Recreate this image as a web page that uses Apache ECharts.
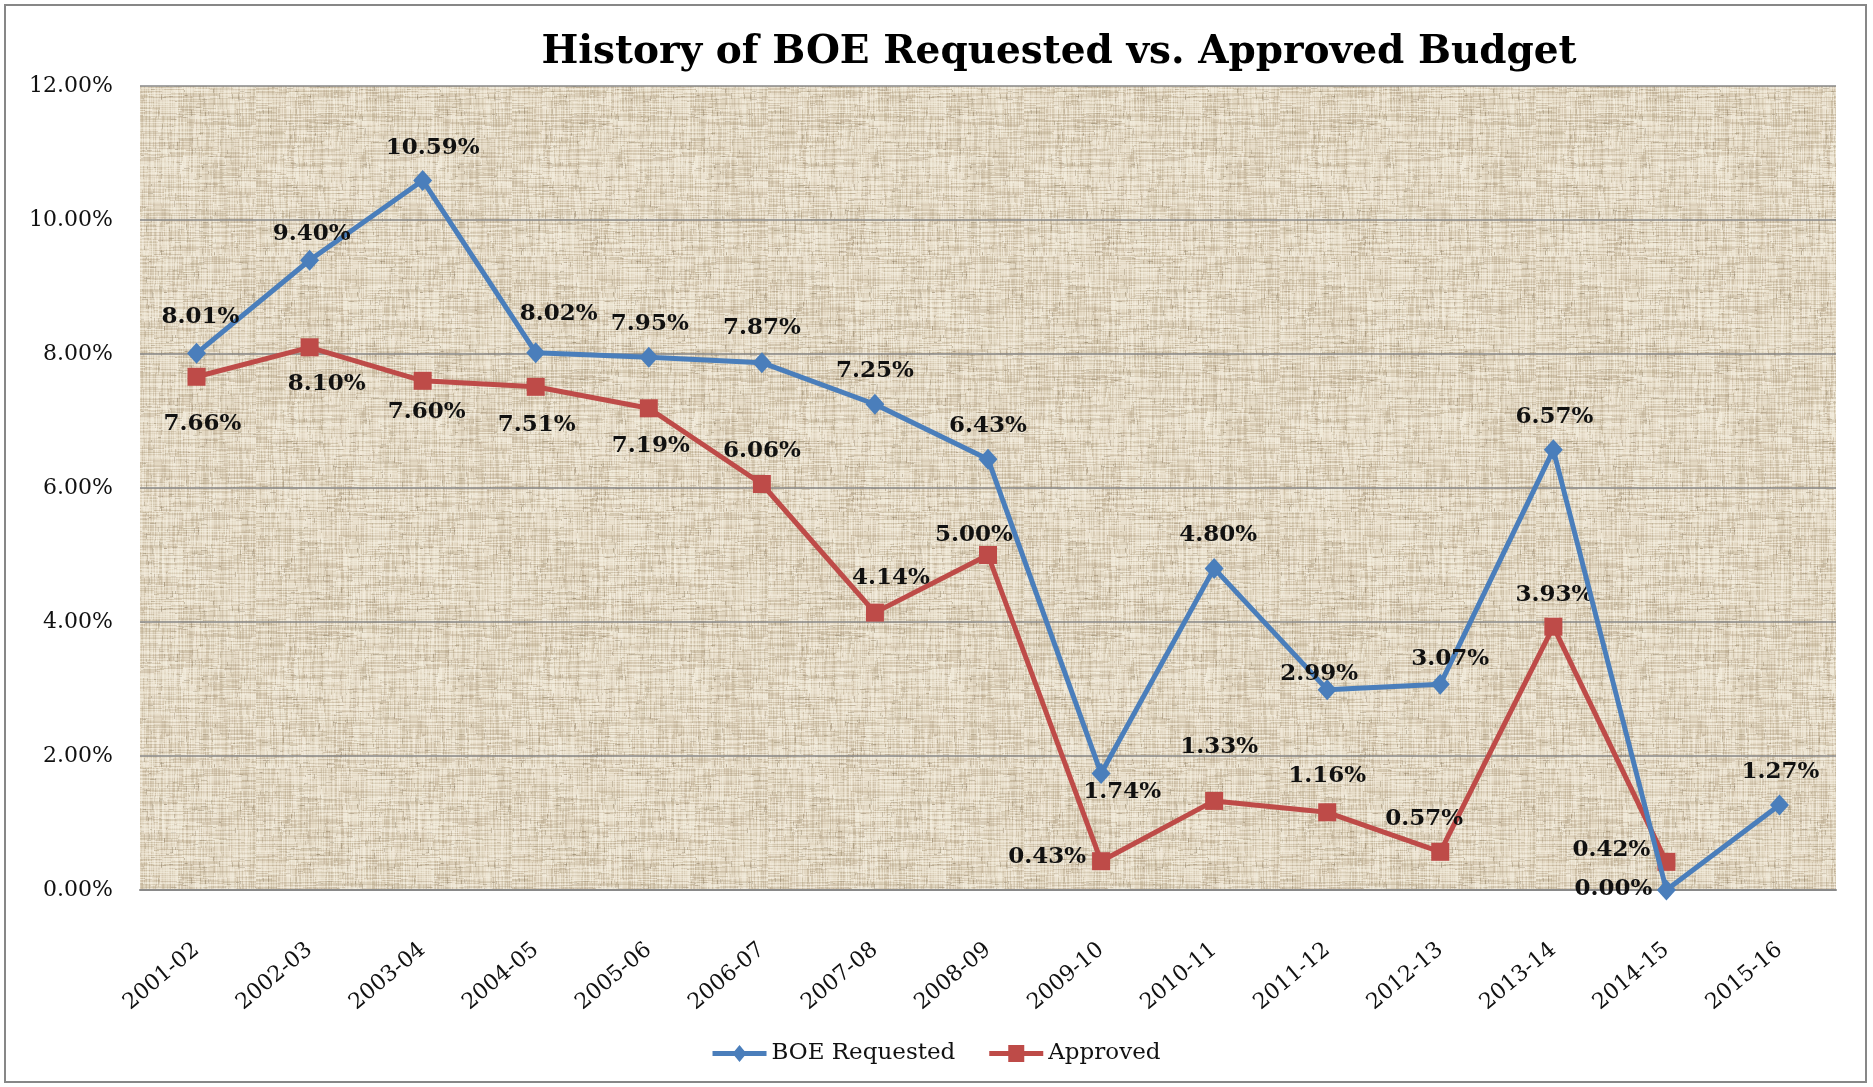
<!DOCTYPE html>
<html>
<head>
<meta charset="utf-8">
<title>History of BOE Requested vs. Approved Budget</title>
<script src="https://cdn.jsdelivr.net/npm/echarts@6/dist/echarts.min.js"></script>
<style>
  html, body { margin: 0; padding: 0; background: #ffffff; }
  #chart { width: 1873px; height: 1087px; }
</style>
</head>
<body>
<div id="chart"></div>
<script>
// School years on the category axis
const years = ['2001-02', '2002-03', '2003-04', '2004-05', '2005-06', '2006-07', '2007-08',
  '2008-09', '2009-10', '2010-11', '2011-12', '2012-13', '2013-14', '2014-15', '2015-16'];

// Budget increase, in percent
const boeRequested = [8.01, 9.40, 10.59, 8.02, 7.95, 7.87, 7.25, 6.43, 1.74, 4.80, 2.99, 3.07, 6.57, 0.00, 1.27];
const approved = [7.66, 8.10, 7.60, 7.51, 7.19, 6.06, 4.14, 5.00, 0.43, 1.33, 1.16, 0.57, 3.93, 0.42, null];

// Value axis ticks
const yTicks = [0, 2, 4, 6, 8, 10, 12];

// Hand-placed label nudges [dx, dy] relative to each marker
const requestedLabelNudge = [[4, -36], [2, -26], [10, -32], [23, -39], [1, -33], [0, -35], [0, -33],
  [0, -33], [21, 19], [4, -33], [-8, -16], [10, -25], [1, -33], [-53, -1], [1, -33]];
const approvedLabelNudge = [[6, 47], [17, 37], [4, 31], [1, 38], [2, 38], [0, -33], [16, -35],
  [-14, -20], [-54, -4], [5, -54], [0, -36], [-16, -33], [1, -32], [-55, -12], [0, 0]];

const SERIF = '"DejaVu Serif", "Liberation Serif", serif';

// Legend keys: a thick line stroke with the series marker in the middle
const ICON_DIAMOND = 'path://M0,6 L22.06,6 L27,0 L31.94,6 L54,6 L54,11 L31.94,11 L27,17 L22.06,11 L0,11 Z';
const ICON_SQUARE = 'path://M0,6 L19,6 L19,0 L35,0 L35,6 L54,6 L54,11 L35,11 L35,17 L19,17 L19,11 L0,11 Z';

// Woven linen texture for the plot background
function linenTexture() {
  const size = 256;
  const c = document.createElement('canvas');
  c.width = size; c.height = size;
  const g = c.getContext('2d');
  g.fillStyle = '#e3d8c3';
  g.fillRect(0, 0, size, size);
  let seed = 29;
  const next = () => { seed = (seed * 1103515245 + 12345) % 2147483648; return seed / 2147483648; };
  // broken warp and weft threads
  for (let pass = 0; pass < 2; pass++) {
    for (let i = 0; i < size; i++) {
      let p = 0;
      while (p < size) {
        const len = 4 + Math.floor(next() * 40);
        const r = next();
        if (r < 0.33) g.fillStyle = 'rgba(160,140,108,' + (0.1 + 0.2 * next()) + ')';
        else if (r < 0.7) g.fillStyle = 'rgba(248,243,230,' + (0.2 + 0.35 * next()) + ')';
        else g.fillStyle = 'rgba(0,0,0,0)';
        if (pass === 0) g.fillRect(i, p, 1, len); else g.fillRect(p, i, len, 1);
        p += len;
      }
    }
  }
  // small dark slubs
  for (let k = 0; k < 600; k++) {
    const x = Math.floor(next() * size), y = Math.floor(next() * size);
    const len = 2 + Math.floor(next() * 5);
    g.fillStyle = 'rgba(135,118,90,' + (0.18 + 0.22 * next()) + ')';
    if (next() > 0.5) g.fillRect(x, y, len, 1); else g.fillRect(x, y, 1, len);
  }
  return c;
}

function labelled(values, nudges) {
  return values.map((v, i) => ({
    value: v,
    label: { offset: nudges[i] }
  }));
}

const chart = echarts.init(document.getElementById('chart'), null, { renderer: 'canvas' });

const labelStyle = {
  show: true,
  position: 'inside',
  formatter: p => p.value.toFixed(2) + '%',
  fontFamily: SERIF,
  fontWeight: 'bold',
  fontSize: 23,
  color: '#111111'
};

chart.setOption({
  backgroundColor: '#ffffff',
  animation: false,
  title: {
    text: 'History of BOE Requested vs. Approved Budget',
    left: 1054,
    textAlign: 'center',
    top: 28,
    textStyle: { fontFamily: SERIF, fontWeight: 'bold', fontSize: 39, color: '#000000' }
  },
  graphic: [{
    type: 'rect',
    shape: { x: 5, y: 5, width: 1861, height: 1077 },
    style: { fill: 'none', stroke: '#878787', lineWidth: 2 },
    silent: true
  }],
  legend: {
    bottom: 17,
    left: 'center',
    itemWidth: 54,
    itemHeight: 17,
    itemGap: 34,
    textStyle: { fontFamily: SERIF, fontSize: 23, color: '#111111' },
    data: [
      { name: 'BOE Requested', icon: ICON_DIAMOND },
      { name: 'Approved', icon: ICON_SQUARE }
    ]
  },
  grid: {
    left: 140,
    right: 37,
    top: 86,
    bottom: 197,
    show: true,
    borderWidth: 0,
    backgroundColor: { image: linenTexture(), repeat: 'repeat' }
  },
  xAxis: {
    type: 'category',
    data: years,
    boundaryGap: true,
    axisLine: { show: true, lineStyle: { color: '#8a8a8a', width: 2 } },
    axisTick: { show: false },
    axisLabel: {
      rotate: 40,
      margin: 57,
      interval: 0,
      fontFamily: SERIF,
      fontSize: 22,
      color: '#111111'
    }
  },
  yAxis: {
    type: 'value',
    min: yTicks[0],
    max: yTicks[yTicks.length - 1],
    interval: yTicks[1] - yTicks[0],
    axisLine: { show: false },
    axisTick: { show: false },
    splitLine: { show: true, lineStyle: { color: '#878787', width: 1.5 } },
    axisLabel: {
      margin: 27,
      formatter: v => v.toFixed(2) + '%',
      fontFamily: SERIF,
      fontSize: 22,
      color: '#111111'
    }
  },
  series: [
    {
      name: 'BOE Requested',
      type: 'line',
      data: labelled(boeRequested, requestedLabelNudge),
      symbol: 'diamond',
      symbolSize: [19, 21],
      showAllSymbol: true,
      lineStyle: { color: '#4a7ebb', width: 5 },
      itemStyle: { color: '#4a7ebb' },
      label: labelStyle,
      z: 3
    },
    {
      name: 'Approved',
      type: 'line',
      data: labelled(approved, approvedLabelNudge),
      symbol: 'rect',
      symbolSize: 18,
      showAllSymbol: true,
      connectNulls: false,
      lineStyle: { color: '#be4b48', width: 5 },
      itemStyle: { color: '#be4b48' },
      label: labelStyle,
      z: 2
    }
  ]
});
</script>
</body>
</html>
